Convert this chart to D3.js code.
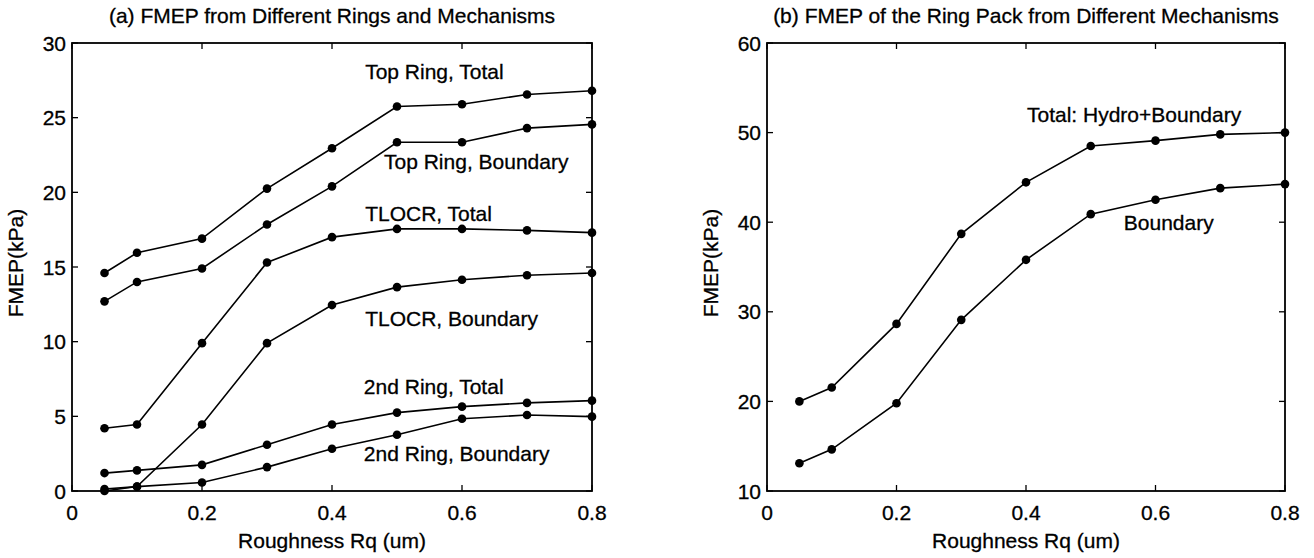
<!DOCTYPE html>
<html>
<head>
<meta charset="utf-8">
<script src="https://cdn.jsdelivr.net/npm/d3@7"></script>
<style>
  html, body { margin: 0; padding: 0; background: #fff; }
  svg { display: block; font-family: "Liberation Sans", Arial, Helvetica, sans-serif; }
  svg text { fill: #000; stroke: #000; stroke-width: 0.3px; }
</style>
</head>
<body>
<div id="chart"></div>
<script>
// Rugosité (x) commune aux deux panneaux
const roughness = [0.05, 0.1, 0.2, 0.3, 0.4, 0.5, 0.6, 0.7, 0.8];

// (a) FMEP par segment et mécanisme, kPa
const topRingTotal       = [14.6, 15.95, 16.9, 20.25, 22.95, 25.75, 25.9, 26.55, 26.8];
const topRingBoundary    = [12.7, 14.0, 14.9, 17.85, 20.4, 23.35, 23.35, 24.3, 24.55];
const tlocrTotal         = [4.2, 4.45, 9.9, 15.3, 17.0, 17.55, 17.55, 17.45, 17.3];
const tlocrBoundary      = [0.0, 0.3, 4.45, 9.9, 12.45, 13.65, 14.15, 14.45, 14.6];
const secondRingTotal    = [1.2, 1.38, 1.75, 3.1, 4.45, 5.25, 5.65, 5.9, 6.05];
const secondRingBoundary = [0.13, 0.29, 0.57, 1.6, 2.83, 3.77, 4.84, 5.09, 4.98];

// (b) FMEP de l'ensemble des segments, kPa
const packTotal    = [20.0, 21.55, 28.65, 38.7, 44.45, 48.5, 49.1, 49.8, 50.0];
const packBoundary = [13.1, 14.65, 19.8, 29.1, 35.8, 40.9, 42.5, 43.8, 44.25];

// Graduations
const xTicks  = [0, 0.2, 0.4, 0.6, 0.8];
const yTicksA = [0, 5, 10, 15, 20, 25, 30];
const yTicksB = [10, 20, 30, 40, 50, 60];

// Étiquettes des courbes (texte + ancrage en unités de données)
const labelsA = [
  { text: "Top Ring, Total",    x: 0.451, y: 27.56 },
  { text: "Top Ring, Boundary", x: 0.48,  y: 21.53 },
  { text: "TLOCR, Total",       x: 0.451, y: 18.08 },
  { text: "TLOCR, Boundary",    x: 0.451, y: 11.07 },
  { text: "2nd Ring, Total",    x: 0.449, y: 6.5 },
  { text: "2nd Ring, Boundary", x: 0.449, y: 2.0 }
];
const labelsB = [
  { text: "Total: Hydro+Boundary", x: 0.4015, y: 51.2 },
  { text: "Boundary",              x: 0.551,  y: 39.13 }
];

const width = 1314;
const height = 558;

const svg = d3.select("#chart")
  .append("svg")
  .attr("width", width)
  .attr("height", height);

const FONT = 21;

function drawPanel(cfg) {
  const x = d3.scaleLinear().domain([0, 0.8]).range([cfg.left, cfg.right]);
  const y = d3.scaleLinear().domain(cfg.yDomain).range([cfg.bottom, cfg.top]);
  const g = svg.append("g");

  // Titre
  g.append("text")
    .attr("x", (cfg.left + cfg.right) / 2)
    .attr("y", 23)
    .attr("text-anchor", "middle")
    .style("font-size", FONT + "px")
    .text(cfg.title);

  // Graduations intérieures sur les quatre côtés
  const tickLen = 6;
  xTicks.forEach(t => {
    g.append("line")
      .attr("x1", x(t)).attr("x2", x(t))
      .attr("y1", cfg.bottom).attr("y2", cfg.bottom - tickLen)
      .attr("stroke", "#000").attr("stroke-width", 1.3);
    g.append("line")
      .attr("x1", x(t)).attr("x2", x(t))
      .attr("y1", cfg.top).attr("y2", cfg.top + tickLen)
      .attr("stroke", "#000").attr("stroke-width", 1.3);
    g.append("text")
      .attr("x", x(t))
      .attr("y", 520)
      .attr("text-anchor", "middle")
      .style("font-size", FONT + "px")
      .text(t === 0 ? "0" : t.toFixed(1));
  });

  cfg.yTicks.forEach(t => {
    g.append("line")
      .attr("x1", cfg.left).attr("x2", cfg.left + tickLen)
      .attr("y1", y(t)).attr("y2", y(t))
      .attr("stroke", "#000").attr("stroke-width", 1.3);
    g.append("line")
      .attr("x1", cfg.right).attr("x2", cfg.right - tickLen)
      .attr("y1", y(t)).attr("y2", y(t))
      .attr("stroke", "#000").attr("stroke-width", 1.3);
    g.append("text")
      .attr("x", cfg.left - 6)
      .attr("y", y(t))
      .attr("dy", "0.36em")
      .attr("text-anchor", "end")
      .style("font-size", FONT + "px")
      .text(t);
  });

  // Cadre
  g.append("rect")
    .attr("x", cfg.left).attr("y", cfg.top)
    .attr("width", cfg.right - cfg.left)
    .attr("height", cfg.bottom - cfg.top)
    .attr("fill", "none")
    .attr("stroke", "#000")
    .attr("stroke-width", 1.8);

  // Titres des axes
  g.append("text")
    .attr("x", (cfg.left + cfg.right) / 2)
    .attr("y", 548)
    .attr("text-anchor", "middle")
    .style("font-size", FONT + "px")
    .text("Roughness Rq (um)");

  g.append("text")
    .attr("transform", `translate(${cfg.left - 49},263) rotate(-90)`)
    .attr("text-anchor", "middle")
    .style("font-size", FONT + "px")
    .text("FMEP(kPa)");

  // Courbes + points
  const line = d3.line()
    .x(d => x(d[0]))
    .y(d => y(d[1]));

  cfg.series.forEach(values => {
    const pts = roughness.map((r, i) => [r, values[i]]);
    g.append("path")
      .datum(pts)
      .attr("d", line)
      .attr("fill", "none")
      .attr("stroke", "#000")
      .attr("stroke-width", 1.6);
    g.selectAll(null)
      .data(pts)
      .join("circle")
      .attr("cx", d => x(d[0]))
      .attr("cy", d => y(d[1]))
      .attr("r", 4.3)
      .attr("fill", "#000");
  });

  // Étiquettes
  cfg.labels.forEach(l => {
    g.append("text")
      .attr("x", x(l.x))
      .attr("y", y(l.y))
      .style("font-size", FONT + "px")
      .text(l.text);
  });
}

drawPanel({
  title: "(a) FMEP from Different Rings and Mechanisms",
  left: 72, right: 592, top: 43, bottom: 491,
  yDomain: [0, 30],
  yTicks: yTicksA,
  series: [topRingTotal, topRingBoundary, tlocrTotal, tlocrBoundary, secondRingTotal, secondRingBoundary],
  labels: labelsA
});

drawPanel({
  title: "(b) FMEP of the Ring Pack from Different Mechanisms",
  left: 767, right: 1285, top: 43, bottom: 491,
  yDomain: [10, 60],
  yTicks: yTicksB,
  series: [packTotal, packBoundary],
  labels: labelsB
});
</script>
</body>
</html>
